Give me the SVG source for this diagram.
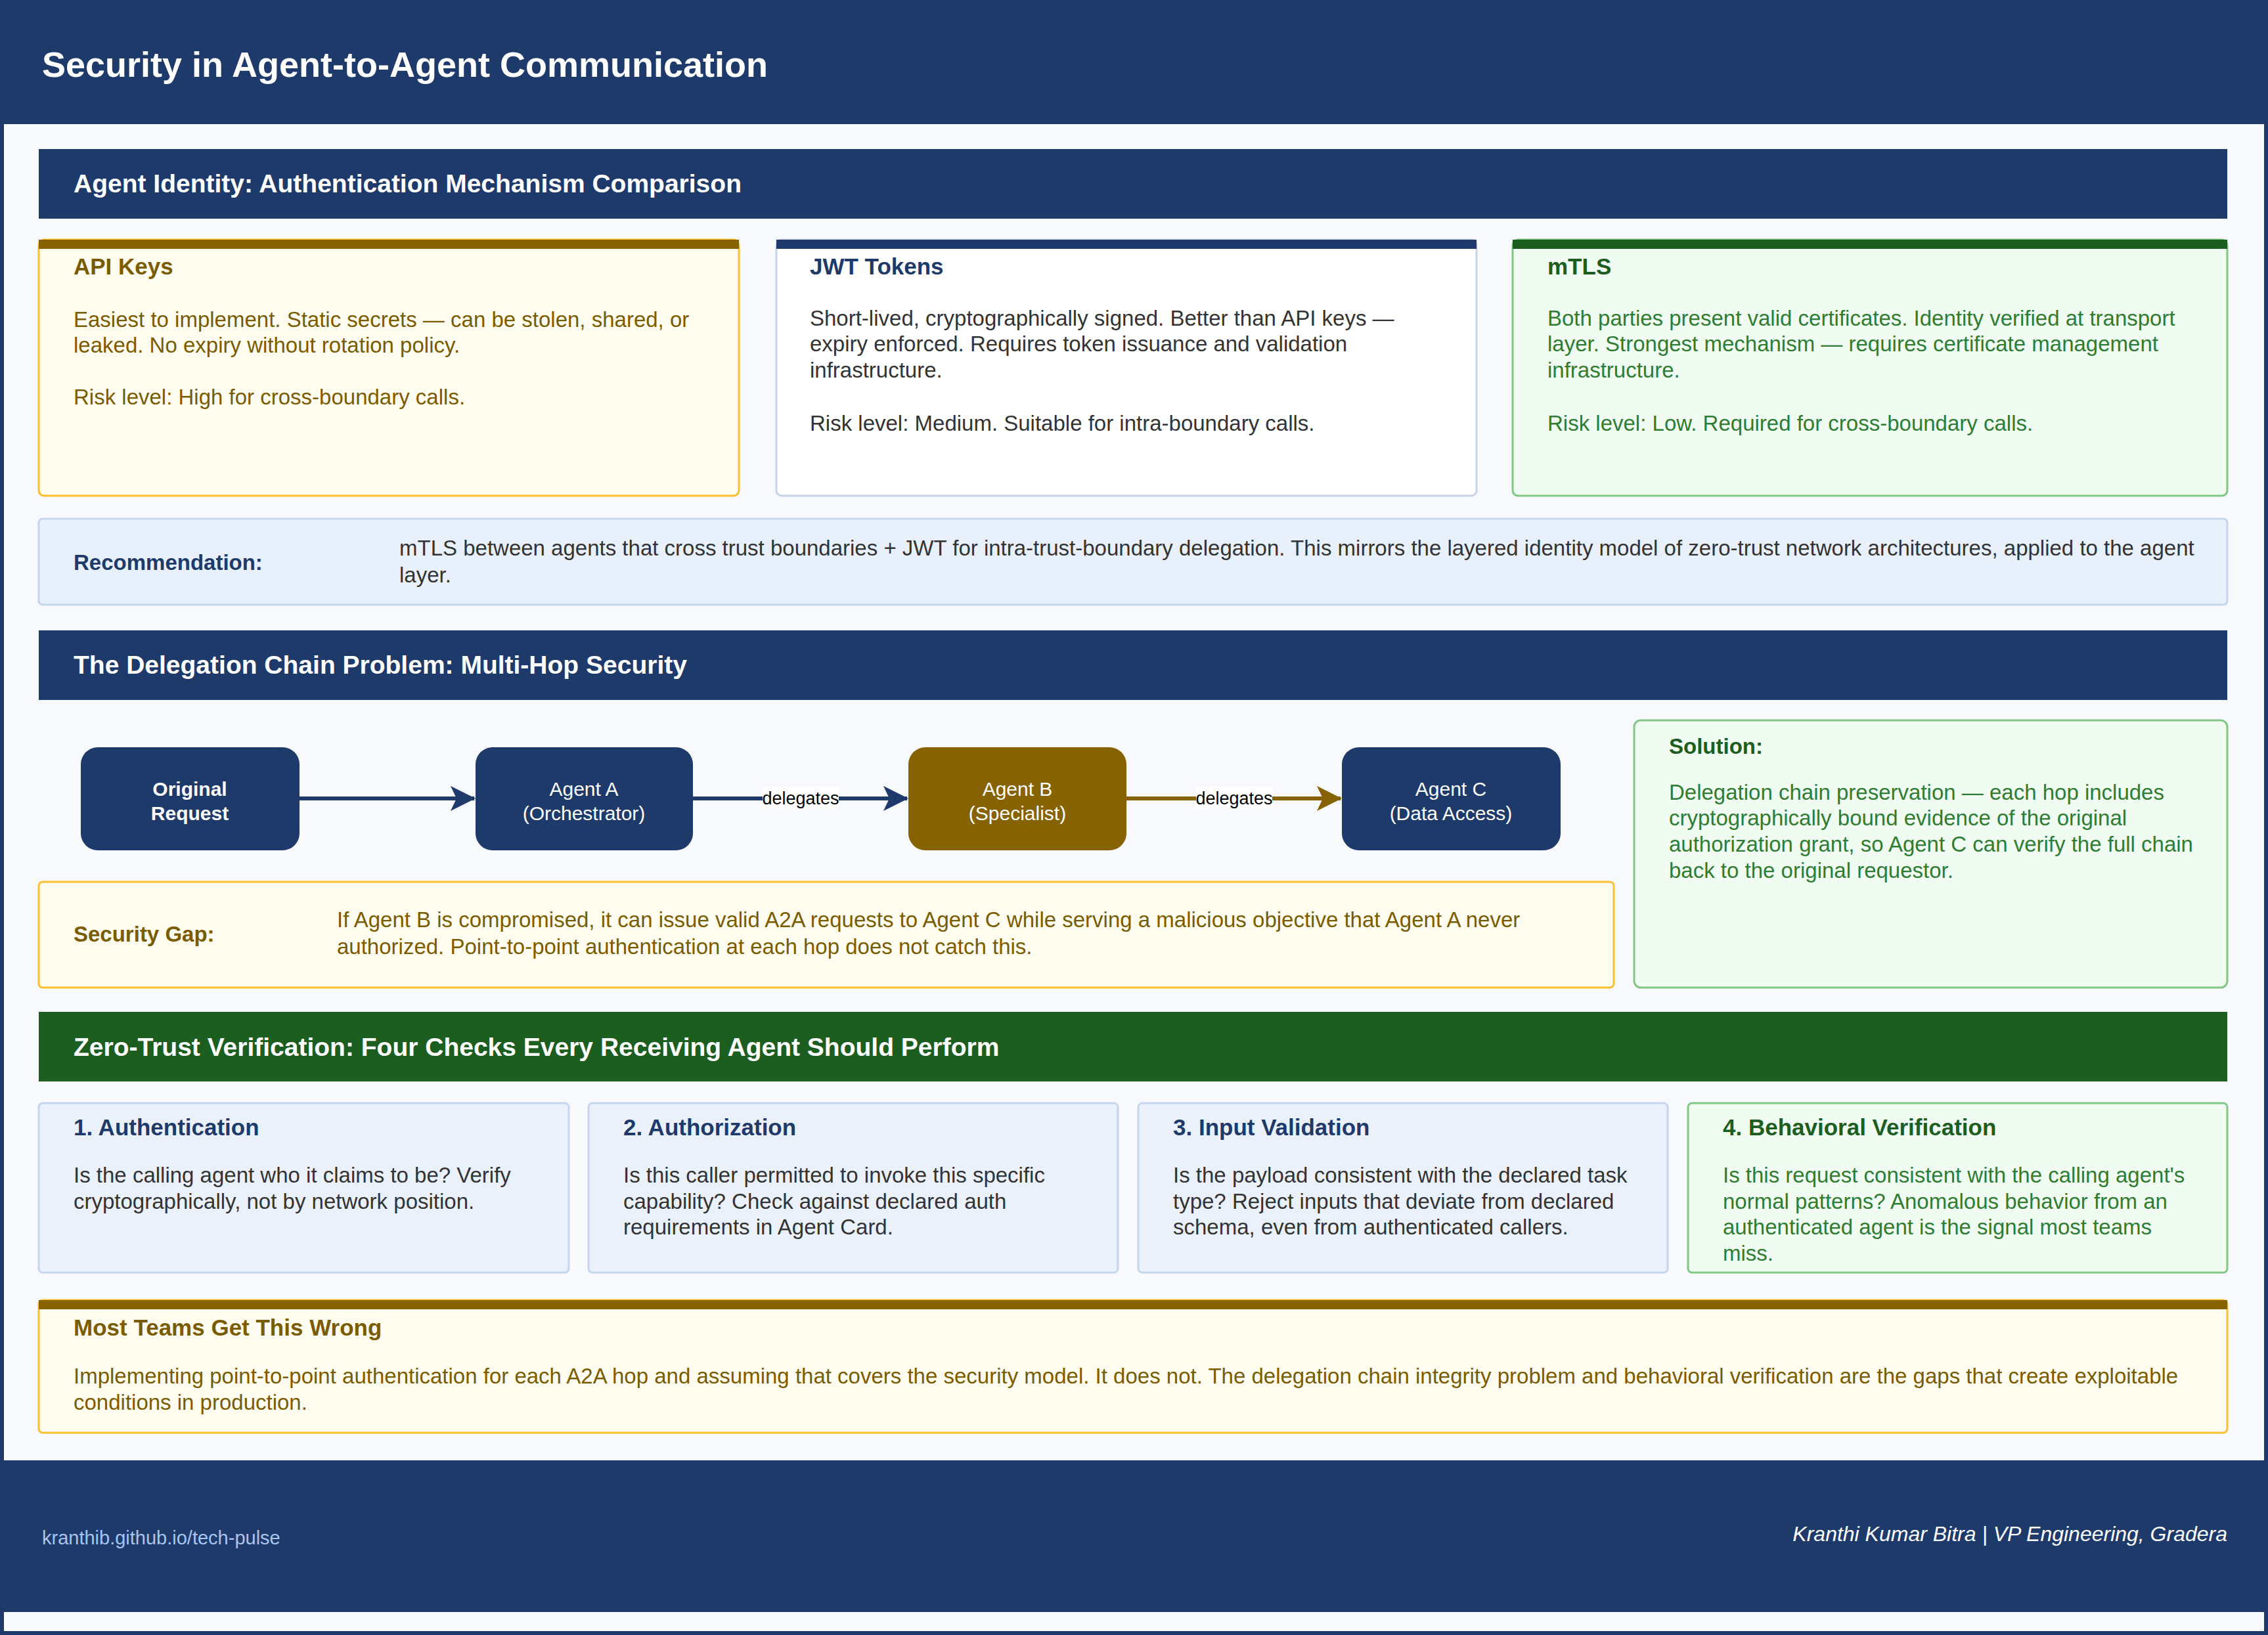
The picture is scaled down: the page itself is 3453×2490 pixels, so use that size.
<svg xmlns="http://www.w3.org/2000/svg" width="3453" height="2490" viewBox="0 0 3453 2490">
<style>
text{font-family:"Liberation Sans",Arial,sans-serif}
.h{font-weight:bold;fill:#fff;font-size:39px}
.ct{font-weight:bold;font-size:35px}
.b{font-size:33px}
.nav{fill:#1d3a6b}
.gold{fill:#7a5c00}
.grn{fill:#2e7d32}
.dgrn{fill:#1b5e20}
.dk{fill:#333}
.nt{fill:#fff;font-size:30px;text-anchor:middle}
.lbl{font-size:27px;fill:#000;text-anchor:middle}
</style>
<defs>
<marker id="an" markerWidth="38" markerHeight="38" refX="36" refY="19" orient="auto" markerUnits="userSpaceOnUse" viewBox="0 0 38 38"><path d="M0,0 L38,19 L0,38 L9,19 z" fill="#1d3a6b"/></marker>
<marker id="ag" markerWidth="38" markerHeight="38" refX="36" refY="19" orient="auto" markerUnits="userSpaceOnUse" viewBox="0 0 38 38"><path d="M0,0 L38,19 L0,38 L9,19 z" fill="#866300"/></marker>
</defs>
<rect x="0" y="0" width="3453" height="2490" fill="#f7f9fc"/>
<rect x="0" y="0" width="3453" height="189" fill="#1d3a6b"/>
<text x="64" y="117" font-size="54" font-weight="bold" fill="#fff">Security in Agent-to-Agent Communication</text>
<rect x="0" y="2224" width="3453" height="231" fill="#1d3a6b"/>
<rect x="3" y="3" width="3447" height="2484" fill="none" stroke="#1d3a6b" stroke-width="6"/>

<g id="sec1">
<rect x="59" y="227" width="3332" height="106" fill="#1d3a6b"/>
<text x="112" y="293" class="h">Agent Identity: Authentication Mechanism Comparison</text>
</g>
<g id="apikeys">
<rect x="59" y="365" width="1066" height="390" rx="8" fill="#fffdf0" stroke="#fbc02d" stroke-width="3"/>
<rect x="59" y="365" width="1066" height="14" fill="#866300"/>
<text x="112" y="418" class="ct gold">API Keys</text>
<text class="b gold"><tspan x="112" y="498">Easiest to implement. Static secrets — can be stolen, shared, or</tspan><tspan x="112" y="537">leaked. No expiry without rotation policy.</tspan><tspan x="112" y="616">Risk level: High for cross-boundary calls.</tspan></text>
</g>
<g id="jwt">
<rect x="1182" y="365" width="1066" height="390" rx="8" fill="#fff" stroke="#c8d3e6" stroke-width="3"/>
<rect x="1182" y="365" width="1066" height="14" fill="#1d3a6b"/>
<text x="1233" y="418" class="ct nav">JWT Tokens</text>
<text class="b dk"><tspan x="1233" y="496">Short-lived, cryptographically signed. Better than API keys —</tspan><tspan x="1233" y="535">expiry enforced. Requires token issuance and validation</tspan><tspan x="1233" y="575">infrastructure.</tspan><tspan x="1233" y="656">Risk level: Medium. Suitable for intra-boundary calls.</tspan></text>
</g>
<g id="mtls">
<rect x="2303" y="365" width="1088" height="390" rx="8" fill="#f0fbf2" stroke="#81c784" stroke-width="3"/>
<rect x="2303" y="365" width="1088" height="14" fill="#1b5e20"/>
<text x="2356" y="418" class="ct dgrn">mTLS</text>
<text class="b grn"><tspan x="2356" y="496">Both parties present valid certificates. Identity verified at transport</tspan><tspan x="2356" y="535">layer. Strongest mechanism — requires certificate management</tspan><tspan x="2356" y="575">infrastructure.</tspan><tspan x="2356" y="656">Risk level: Low. Required for cross-boundary calls.</tspan></text>
</g>
<g id="recommendation">
<rect x="59" y="790" width="3332" height="131" rx="6" fill="#e8f0fb" stroke="#c5d5ee" stroke-width="3"/>
<text x="112" y="868" class="b nav" font-weight="bold">Recommendation:</text>
<text class="b dk"><tspan x="608" y="846">mTLS between agents that cross trust boundaries + JWT for intra-trust-boundary delegation. This mirrors the layered identity model of zero-trust network architectures, applied to the agent</tspan><tspan x="608" y="887">layer.</tspan></text>
</g>

<g id="sec2">
<rect x="59" y="960" width="3332" height="106" fill="#1d3a6b"/>
<text x="112" y="1026" class="h">The Delegation Chain Problem: Multi-Hop Security</text>
</g>
<g id="connectors">
<line x1="456" y1="1216" x2="722" y2="1216" stroke="#1d3a6b" stroke-width="6" marker-end="url(#an)"/>
<line x1="1055" y1="1216" x2="1381" y2="1216" stroke="#1d3a6b" stroke-width="6" marker-end="url(#an)"/>
<rect x="1161" y="1198" width="116" height="34" fill="#fff"/>
<text x="1219" y="1225" class="lbl">delegates</text>
<line x1="1715" y1="1216" x2="2041" y2="1216" stroke="#866300" stroke-width="6" marker-end="url(#ag)"/>
<rect x="1821" y="1198" width="116" height="34" fill="#fff"/>
<text x="1879" y="1225" class="lbl">delegates</text>
</g>
<g id="original">
<rect x="123" y="1138" width="333" height="157" rx="26" fill="#1d3a6b"/>
<text class="nt" font-weight="bold"><tspan x="289" y="1212">Original</tspan><tspan x="289" y="1249">Request</tspan></text>
</g>
<g id="agentA">
<rect x="724" y="1138" width="331" height="157" rx="26" fill="#1d3a6b"/>
<text class="nt"><tspan x="889" y="1212">Agent A</tspan><tspan x="889" y="1249">(Orchestrator)</tspan></text>
</g>
<g id="agentB">
<rect x="1383" y="1138" width="332" height="157" rx="26" fill="#866300"/>
<text class="nt"><tspan x="1549" y="1212">Agent B</tspan><tspan x="1549" y="1249">(Specialist)</tspan></text>
</g>
<g id="agentC">
<rect x="2043" y="1138" width="333" height="157" rx="26" fill="#1d3a6b"/>
<text class="nt"><tspan x="2209" y="1212">Agent C</tspan><tspan x="2209" y="1249">(Data Access)</tspan></text>
</g>
<g id="gap">
<rect x="59" y="1343" width="2398" height="161" rx="6" fill="#fffdf0" stroke="#fbc02d" stroke-width="3"/>
<text x="112" y="1434" class="b gold" font-weight="bold">Security Gap:</text>
<text class="b gold"><tspan x="513" y="1412">If Agent B is compromised, it can issue valid A2A requests to Agent C while serving a malicious objective that Agent A never</tspan><tspan x="513" y="1453">authorized. Point-to-point authentication at each hop does not catch this.</tspan></text>
</g>
<g id="solution">
<rect x="2488" y="1097" width="903" height="407" rx="10" fill="#f0fbf2" stroke="#81c784" stroke-width="3"/>
<text x="2541" y="1148" class="b dgrn" font-weight="bold">Solution:</text>
<text class="b grn"><tspan x="2541" y="1218">Delegation chain preservation — each hop includes</tspan><tspan x="2541" y="1257">cryptographically bound evidence of the original</tspan><tspan x="2541" y="1297">authorization grant, so Agent C can verify the full chain</tspan><tspan x="2541" y="1337">back to the original requestor.</tspan></text>
</g>

<g id="sec3">
<rect x="59" y="1541" width="3332" height="106" fill="#1b5e20"/>
<text x="112" y="1608" class="h">Zero-Trust Verification: Four Checks Every Receiving Agent Should Perform</text>
</g>
<g id="check1">
<rect x="59" y="1680" width="807" height="258" rx="6" fill="#eaf1fb" stroke="#c5d5ee" stroke-width="3"/>
<text x="112" y="1729" class="ct nav">1. Authentication</text>
<text class="b dk"><tspan x="112" y="1801">Is the calling agent who it claims to be? Verify</tspan><tspan x="112" y="1841">cryptographically, not by network position.</tspan></text>
</g>
<g id="check2">
<rect x="896" y="1680" width="806" height="258" rx="6" fill="#eaf1fb" stroke="#c5d5ee" stroke-width="3"/>
<text x="949" y="1729" class="ct nav">2. Authorization</text>
<text class="b dk"><tspan x="949" y="1801">Is this caller permitted to invoke this specific</tspan><tspan x="949" y="1841">capability? Check against declared auth</tspan><tspan x="949" y="1880">requirements in Agent Card.</tspan></text>
</g>
<g id="check3">
<rect x="1733" y="1680" width="806" height="258" rx="6" fill="#eaf1fb" stroke="#c5d5ee" stroke-width="3"/>
<text x="1786" y="1729" class="ct nav">3. Input Validation</text>
<text class="b dk"><tspan x="1786" y="1801">Is the payload consistent with the declared task</tspan><tspan x="1786" y="1841">type? Reject inputs that deviate from declared</tspan><tspan x="1786" y="1880">schema, even from authenticated callers.</tspan></text>
</g>
<g id="check4">
<rect x="2570" y="1680" width="821" height="258" rx="6" fill="#f0fbf2" stroke="#81c784" stroke-width="3"/>
<text x="2623" y="1729" class="ct dgrn">4. Behavioral Verification</text>
<text class="b grn"><tspan x="2623" y="1801">Is this request consistent with the calling agent's</tspan><tspan x="2623" y="1841">normal patterns? Anomalous behavior from an</tspan><tspan x="2623" y="1880">authenticated agent is the signal most teams</tspan><tspan x="2623" y="1920">miss.</tspan></text>
</g>
<g id="wrong">
<rect x="59" y="1980" width="3332" height="202" rx="6" fill="#fffdf0" stroke="#fbc02d" stroke-width="3"/>
<rect x="59" y="1980" width="3332" height="14" fill="#866300"/>
<text x="112" y="2034" class="ct gold">Most Teams Get This Wrong</text>
<text class="b gold"><tspan x="112" y="2107">Implementing point-to-point authentication for each A2A hop and assuming that covers the security model. It does not. The delegation chain integrity problem and behavioral verification are the gaps that create exploitable</tspan><tspan x="112" y="2147">conditions in production.</tspan></text>
</g>
<g id="footer">
<text x="64" y="2352" font-size="29" fill="#a8c4f0">kranthib.github.io/tech-pulse</text>
<text x="3391" y="2347" font-size="32" font-style="italic" fill="#fff" text-anchor="end">Kranthi Kumar Bitra | VP Engineering, Gradera</text>
</g>
</svg>
